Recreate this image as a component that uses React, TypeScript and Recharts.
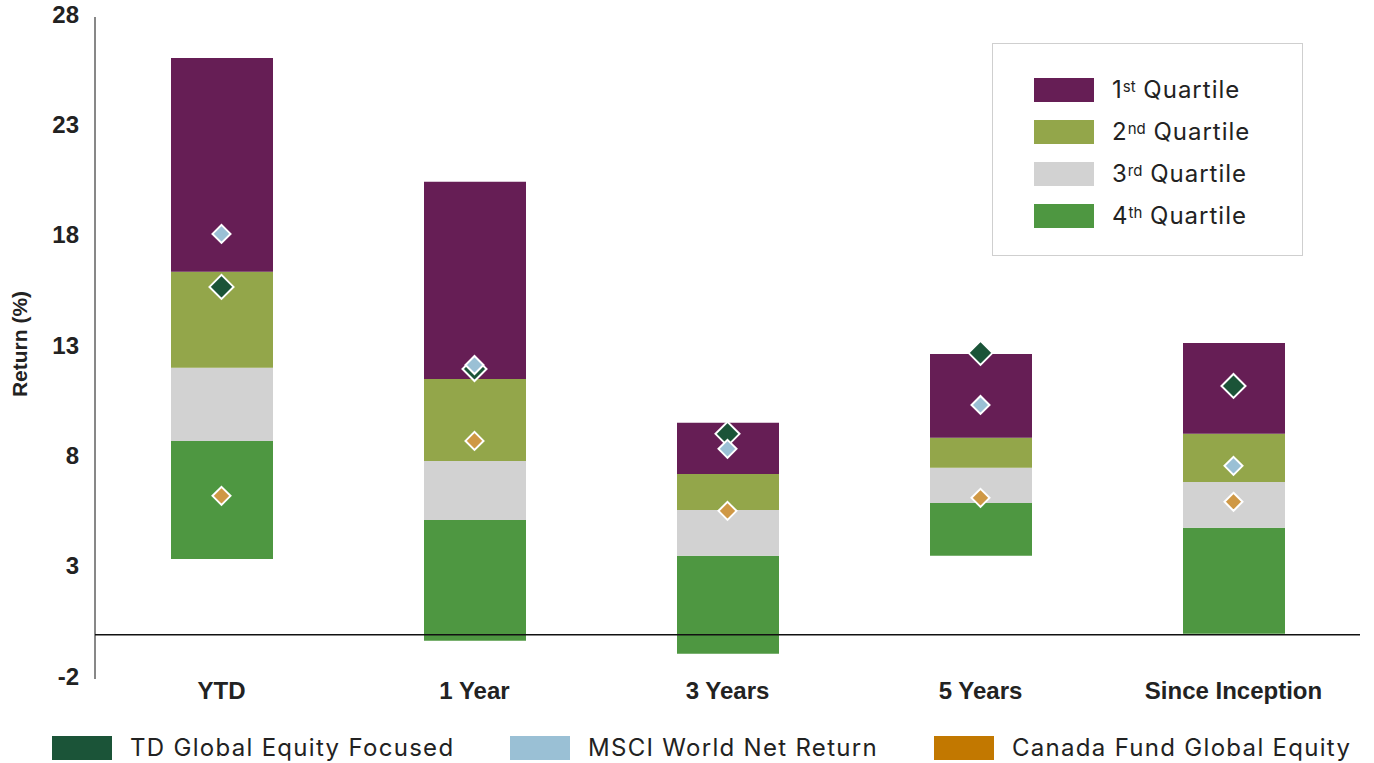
import React from 'react';
import { ComposedChart, Bar, Line, XAxis, YAxis, ReferenceLine } from 'recharts';

const categories = ['YTD', '1 Year', '3 Years', '5 Years', 'Since Inception'];
// quartile boundaries (return %)
const bottom = [3.44, -0.27, -0.86, 3.58, 0.05];
const q4Top = [8.79, 5.21, 3.58, 5.98, 4.85];
const q3Top = [12.1, 7.88, 5.66, 7.57, 6.93];
const q2Top = [16.45, 11.6, 7.29, 8.93, 9.11];
const q1Top = [26.14, 20.53, 9.61, 12.73, 13.23];
// fund / index points
const tdFund = [15.77, 12.05, 9.11, 12.78, 11.28];
const msci = [18.17, 12.23, 8.43, 10.42, 7.66];
const canadaFund = [6.3, 8.79, 5.62, 6.21, 6.03];
const yTicks = [-2, 3, 8, 13, 18, 23, 28];

const data = categories.map((name, i) => ({
  name,
  base: bottom[i],
  q4: q4Top[i] - bottom[i],
  q3: q3Top[i] - q4Top[i],
  q2: q2Top[i] - q3Top[i],
  q1: q1Top[i] - q2Top[i],
  td: tdFund[i],
  msci: msci[i],
  canada: canadaFund[i],
}));

const C = {
  q1: '#661E55',
  q2: '#93A64A',
  q3: '#D2D2D2',
  q4: '#4E9741',
  td: '#1B5438',
  msci: '#9AC0D5',
  canada: '#C27800',
  canadaDot: '#CF9845',
};

const AXIS_FONT = '"Liberation Sans", Arial, sans-serif';
const FONT = 'Inter, "Noto Sans", sans-serif';

const diamond = (fill: string, r: number) => (props: any) => {
  const { cx, cy } = props;
  if (cx == null || cy == null) return null;
  return (
    <polygon
      points={`${cx},${cy - r} ${cx + r},${cy} ${cx},${cy + r} ${cx - r},${cy}`}
      fill={fill}
      stroke="#fff"
      strokeWidth={2}
    />
  );
};

const YTitle = () => (
  <text
    transform="translate(27,344) rotate(-90)"
    textAnchor="middle"
    fontFamily={AXIS_FONT}
    fontWeight={700}
    fontSize={21}
    fill="#222"
  >
    Return (%)
  </text>
);

const quartiles = [
  { color: C.q1, n: '1', sup: 'st' },
  { color: C.q2, n: '2', sup: 'nd' },
  { color: C.q3, n: '3', sup: 'rd' },
  { color: C.q4, n: '4', sup: 'th' },
];

const series = [
  { color: C.td, label: 'TD Global Equity Focused', x: 52 },
  { color: C.msci, label: 'MSCI World Net Return', x: 510 },
  { color: C.canada, label: 'Canada Fund Global Equity', x: 934 },
];

export default function App() {
  return (
    <div style={{ position: 'absolute', left: 0, top: 0, width: 1374, height: 763, fontFamily: FONT, background: '#fff' }}>
      <ComposedChart
        width={1374}
        height={763}
        data={data}
        margin={{ top: 17, right: 14, left: 0, bottom: 54 }}
        barSize={102}
      >
        <XAxis
          dataKey="name"
          axisLine={false}
          tickLine={false}
          tickMargin={0}
          interval={0}
          tick={{ fontSize: 24, fontWeight: 700, fill: '#222', fontFamily: AXIS_FONT, dy: -3 }}
        />
        <YAxis
          width={95}
          domain={[-2, 28]}
          ticks={yTicks}
          interval={0}
          tickLine={false}
          axisLine={{ stroke: '#111', strokeWidth: 1 }}
          tickMargin={10}
          tick={{ fontSize: 24, fontWeight: 700, fill: '#222', fontFamily: AXIS_FONT, dy: -3 }}
          label={<YTitle />}
        />
        <Bar dataKey="base" stackId="a" fill="transparent" isAnimationActive={false} />
        <Bar dataKey="q4" stackId="a" fill={C.q4} isAnimationActive={false} />
        <Bar dataKey="q3" stackId="a" fill={C.q3} isAnimationActive={false} />
        <Bar dataKey="q2" stackId="a" fill={C.q2} isAnimationActive={false} />
        <Bar dataKey="q1" stackId="a" fill={C.q1} isAnimationActive={false} />
        <ReferenceLine y={0} stroke="#111" strokeWidth={1.5} />
        <Line dataKey="td" stroke="none" dot={diamond(C.td, 12)} activeDot={false} isAnimationActive={false} />
        <Line dataKey="msci" stroke="none" dot={diamond(C.msci, 9)} activeDot={false} isAnimationActive={false} />
        <Line dataKey="canada" stroke="none" dot={diamond(C.canadaDot, 9)} activeDot={false} isAnimationActive={false} />
      </ComposedChart>

      <div
        style={{
          position: 'absolute',
          left: 992,
          top: 43,
          width: 311,
          height: 213,
          border: '1.5px solid #cfcfcf',
          boxSizing: 'border-box',
        }}
      >
        {quartiles.map((q, i) => (
          <div key={i} style={{ position: 'absolute', left: 41, top: 34 + i * 42, display: 'flex', alignItems: 'center' }}>
            <div style={{ width: 60, height: 24, background: q.color }} />
            <span style={{ marginLeft: 18, fontSize: 24, color: '#222', lineHeight: '24px', whiteSpace: 'nowrap', letterSpacing: 1 }}>
              {q.n}
              <sup style={{ fontSize: 15, verticalAlign: 'top', position: 'relative', top: -3, letterSpacing: 0 }}>{q.sup}</sup> Quartile
            </span>
          </div>
        ))}
      </div>

      {series.map((s) => (
        <div key={s.label} style={{ position: 'absolute', left: s.x, top: 736, display: 'flex', alignItems: 'center' }}>
          <div style={{ width: 60, height: 24, background: s.color }} />
          <span style={{ marginLeft: 18, fontSize: 24, color: '#222', lineHeight: '24px', whiteSpace: 'nowrap', letterSpacing: 1.3 }}>{s.label}</span>
        </div>
      ))}
    </div>
  );
}
